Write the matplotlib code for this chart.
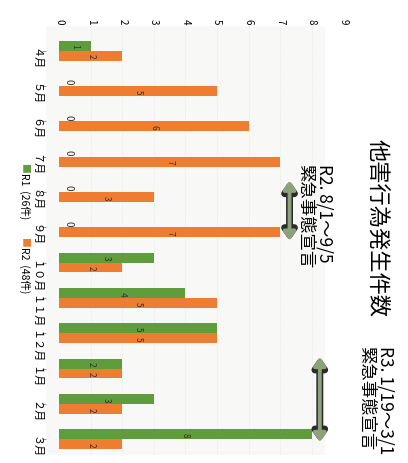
import numpy as np
import matplotlib.pyplot as plt

plt.rcParams['font.family'] = ['Noto Sans CJK JP', 'DejaVu Sans']

# データ（月別の他害行為発生件数）
months = ['４月', '５月', '６月', '７月', '８月', '９月', '１０月', '１１月', '１２月', '１月', '２月', '３月']
r1 = [1, 0, 0, 0, 0, 0, 3, 4, 5, 2, 3, 8]
r2 = [2, 5, 6, 7, 3, 7, 2, 5, 5, 2, 2, 2]
r1_label = 'R1  (26件)'
r2_label = 'R2  (48件)'
title = '他害行為発生件数'
note1 = 'R2. 8/1～9/5\n緊急事態宣言'
note2 = 'R3. 1/19～3/1\n緊急事態宣言'

green = '#5f9c3c'
orange = '#ef7d31'

fig = plt.figure(figsize=(4.08, 4.64), dpi=100)
ax = fig.add_axes([0.113, 0.017, 0.728, 0.925])

# 元のグラフは90度回転しているので横棒で描く
y = np.arange(len(months))
h = 0.28
b1 = ax.barh(y - h / 2, r1, height=h, color=green, zorder=2)
b2 = ax.barh(y + h / 2, r2, height=h, color=orange, zorder=2)

for bars, vals in ((b1, r1), (b2, r2)):
    for bar, v in zip(bars, vals):
        cy = bar.get_y() + bar.get_height() / 2
        if v:
            ax.text(v / 2, cy, str(v), rotation=-90, ha='center', va='center',
                    fontsize=6, color='#333333', zorder=3)
        else:
            ax.text(0.3, cy, '0', rotation=-90, ha='center', va='center',
                    fontsize=7, color='#333333', zorder=3)

ax.set_xlim(-0.42, 9.0)
ax.set_ylim(11.45, -0.7)
ax.axvspan(-0.42, 8.4, color='#f8f8f6', zorder=0)
ax.vlines(range(1, 9), 0, 1, transform=ax.get_xaxis_transform(),
          colors='#e4e4e4', lw=0.6, linestyles=':', zorder=1)

ax.xaxis.tick_top()
ax.set_xticks(range(10))
ax.set_xticklabels([str(i) for i in range(10)], rotation=-90, fontsize=7)
ax.tick_params(axis='x', length=0, pad=2)
ax.set_yticks(y)
ax.set_yticklabels(months, rotation=-90, fontsize=8)
ax.tick_params(axis='y', length=3, color='#999999', pad=1)
for s in ax.spines.values():
    s.set_visible(False)


def block_arrow(x, y0, y1):
    for lw, col in ((5, '#2a2a2a'), (2.8, '#8da27c')):
        ax.annotate('', xy=(x, y0), xytext=(x, y1),
                    arrowprops=dict(arrowstyle='<|-|>,head_width=0.35,head_length=0.5',
                                    lw=lw, color=col, shrinkA=0, shrinkB=0),
                    annotation_clip=False)


block_arrow(7.3, 3.68, 5.38)
block_arrow(8.26, 8.67, 11.08)

fig.text(0.926, 0.509, title, rotation=-90, fontsize=16, ha='center', va='center')
fig.text(0.772, 0.646, note1, rotation=-90, fontsize=12.5, ha='center', va='top',
         multialignment='left', linespacing=1.1)
fig.text(0.922, 0.254, note2, rotation=-90, fontsize=12.5, ha='center', va='top',
         multialignment='left', linespacing=1.1)

# 凡例（回転）
fig.text(0.061, 0.649, '■', color=green, rotation=-90, fontsize=7, ha='center', va='top')
fig.text(0.061, 0.627, r1_label, rotation=-90, fontsize=7.5, ha='center', va='top')
fig.text(0.061, 0.489, '■', color=orange, rotation=-90, fontsize=7, ha='center', va='top')
fig.text(0.061, 0.467, r2_label, rotation=-90, fontsize=7.5, ha='center', va='top')

fig.savefig('out.png', dpi=100)
